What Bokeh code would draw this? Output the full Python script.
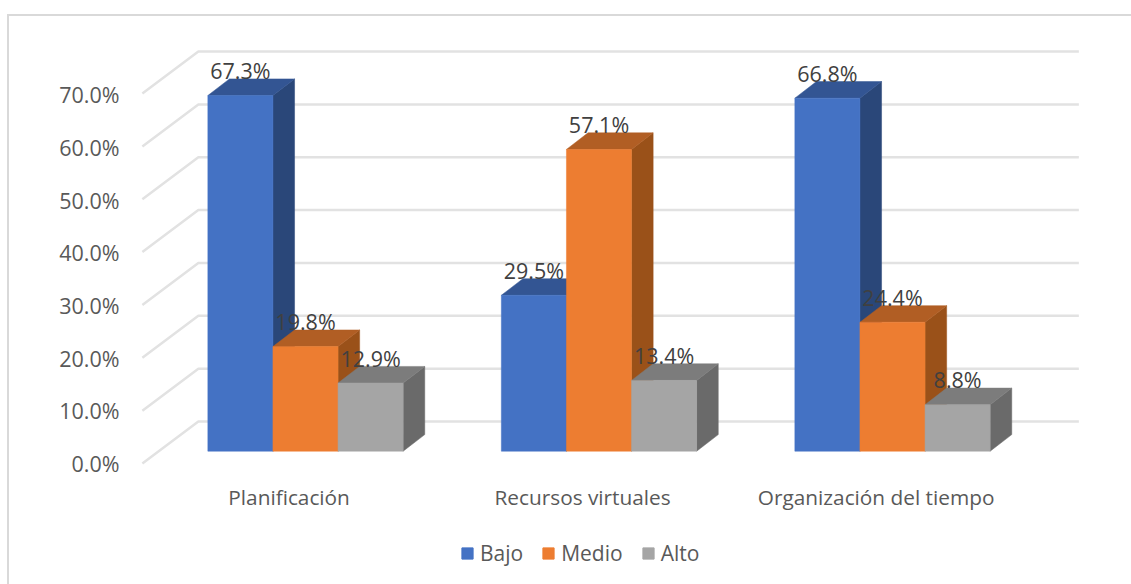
from bokeh.plotting import figure
from bokeh.layouts import column
from bokeh.embed import file_html
from bokeh.resources import INLINE
from bokeh.core.properties import value
from bokeh.models import FixedTicker, PrintfTickFormatter, Legend, LegendItem, Range1d, LinearAxis

categories = ["Planificación", "Recursos virtuales", "Organización del tiempo"]
series_names = ["Bajo", "Medio", "Alto"]
bajo = [67.3, 29.5, 66.8]
medio = [19.8, 57.1, 24.4]
alto = [12.9, 13.4, 8.8]
y_ticks = [0, 10, 20, 30, 40, 50, 60, 70]

front_cols = ["#4472C4", "#ED7D31", "#A5A5A5"]
top_cols = ["#335593", "#B15E24", "#7C7C7C"]
side_cols = ["#2A4779", "#9A5119", "#6A6A6A"]
GRID = "#E2E2E2"
TXT = "#595959"
LBL = "#404040"
FONT = "Open Sans"
EDGE = "linear-gradient(#D9D9D9,#D9D9D9)"

# geometry (pixels per unit, used to build the pseudo-3D projection)
PX_X = 293.5
PX_Y = 5.285
PX_Y_AXIS = 5.27
X0_PX, Y0_PX = 288.6, 463.0     # canvas position of category 0 / value 0 on the front plane
W, H, H_LEG = 1131, 513, 71
FRAME_L, FRAME_R, FRAME_T, FRAME_B = 126, 1131, 20, 470
WALL_DX, WALL_DY = 56 / PX_X, 42 / PX_Y
BAR_W = 65.1 / PX_X
B0_DX, B0_DY = 16.4 / PX_X, 12.3 / PX_Y
B1_DX, B1_DY = 38.0 / PX_X, 28.9 / PX_Y

p = figure(width=W, height=H, frame_width=FRAME_R - FRAME_L, frame_height=FRAME_B - FRAME_T,
           output_backend="svg", toolbar_location=None, y_axis_location=None,
           min_border_left=FRAME_L, min_border_right=0, min_border_top=FRAME_T,
           min_border_bottom=H - FRAME_B,
           x_range=Range1d((FRAME_L - X0_PX) / PX_X, (FRAME_R - X0_PX) / PX_X),
           y_range=Range1d((Y0_PX - FRAME_B) / PX_Y, (Y0_PX - FRAME_T) / PX_Y),
           background_fill_color=None, border_fill_color=None,
           styles={"background": f"{EDGE} 7px 14px/2px {H}px no-repeat,"
                                 f"{EDGE} 7px 14px/{W}px 2px no-repeat,white"})
p.extra_y_ranges = {"ax": Range1d((Y0_PX - FRAME_B) / PX_Y_AXIS, (Y0_PX - FRAME_T) / PX_Y_AXIS)}
p.outline_line_color = None
p.grid.visible = False

# floor / wall gridlines
xs, ys = [], []
for t in y_ticks:
    xs.append([-0.5, -0.5 + WALL_DX, 2.5 + WALL_DX])
    ys.append([t, t + WALL_DY, t + WALL_DY])
p.multi_line(xs, ys, line_color=GRID, line_width=2.5)

# 3D bars
labels_x, labels_y, labels_t = [], [], []
for s, vals in enumerate([bajo, medio, alto]):
    sx, sy, tx, ty, fx, fy = [], [], [], [], [], []
    for c, v in enumerate(vals):
        l = c + (s - 1.5) * BAR_W
        r = l + BAR_W
        xl, xr = l + B0_DX, r + B0_DX
        yb, yt = B0_DY, v + B0_DY
        ddx, ddy = B1_DX - B0_DX, B1_DY - B0_DY
        sx.append([xr, xr + ddx, xr + ddx, xr])
        sy.append([yb, yb + ddy, yt + ddy, yt])
        tx.append([xl, xl + ddx, xr + ddx, xr])
        ty.append([yt, yt + ddy, yt + ddy, yt])
        fx.append([xl, xr, xr, xl])
        fy.append([yb, yb, yt, yt])
        labels_x.append((xl + xr) / 2)
        labels_y.append(yt + 25 / PX_Y)
        labels_t.append(f"{v:.1f}%")
    p.patches(sx, sy, fill_color=side_cols[s], line_color=side_cols[s], line_width=0.5)
    p.patches(tx, ty, fill_color=top_cols[s], line_color=top_cols[s], line_width=0.5)
    p.patches(fx, fy, fill_color=front_cols[s], line_color=front_cols[s], line_width=0.5)

p.text(labels_x, labels_y, text=labels_t, text_align="center", text_baseline="middle",
       text_font=value(FONT), text_font_size="21.5px", text_color=LBL)

# axes
yax = LinearAxis(y_range_name="ax", ticker=FixedTicker(ticks=y_ticks),
                 formatter=PrintfTickFormatter(format="%.1f%%"),
                 major_label_text_font=FONT, major_label_text_font_size="21.5px",
                 major_label_text_color=TXT, axis_line_color=None, major_tick_line_color=None,
                 minor_tick_line_color=None, major_label_standoff=1)
p.add_layout(yax, "left")

p.xaxis.ticker = FixedTicker(ticks=[0, 1, 2])
p.xaxis.major_label_overrides = {i: c for i, c in enumerate(categories)}
p.xaxis.major_label_text_font = FONT
p.xaxis.major_label_text_font_size = "20.8px"
p.xaxis.major_label_text_color = TXT
p.xaxis.axis_line_color = None
p.xaxis.major_tick_line_color = None
p.xaxis.minor_tick_line_color = None
p.xaxis.major_label_standoff = 6

# legend strip below the plot: its frame fills the strip, so nothing is clipped
p2 = figure(width=W, height=H_LEG, output_backend="svg", toolbar_location=None,
            x_axis_location=None, y_axis_location=None,
            min_border_left=0, min_border_right=0, min_border_top=0, min_border_bottom=0,
            x_range=Range1d(0, 1), y_range=Range1d(0, 1),
            background_fill_color=None, border_fill_color=None,
            styles={"background": f"{EDGE} 7px 0px/2px {H_LEG}px no-repeat,white"})
p2.outline_line_color = None
p2.grid.visible = False
items = []
for name, col in zip(series_names, front_cols):
    r = p2.vbar(x=[2], top=[0], width=0, fill_color=col, line_color=col)
    items.append(LegendItem(label=name, renderers=[r]))
legend = Legend(items=items, orientation="horizontal", location=(334, 17),
                label_text_font=FONT, label_text_font_size="21px", label_text_color=TXT,
                glyph_width=14, glyph_height=14, label_standoff=6, spacing=18,
                border_line_color=None, background_fill_alpha=0, margin=0, padding=0)
p2.add_layout(legend, "center")

open("out.html", "w").write(file_html(column(p, p2, spacing=0), INLINE))
